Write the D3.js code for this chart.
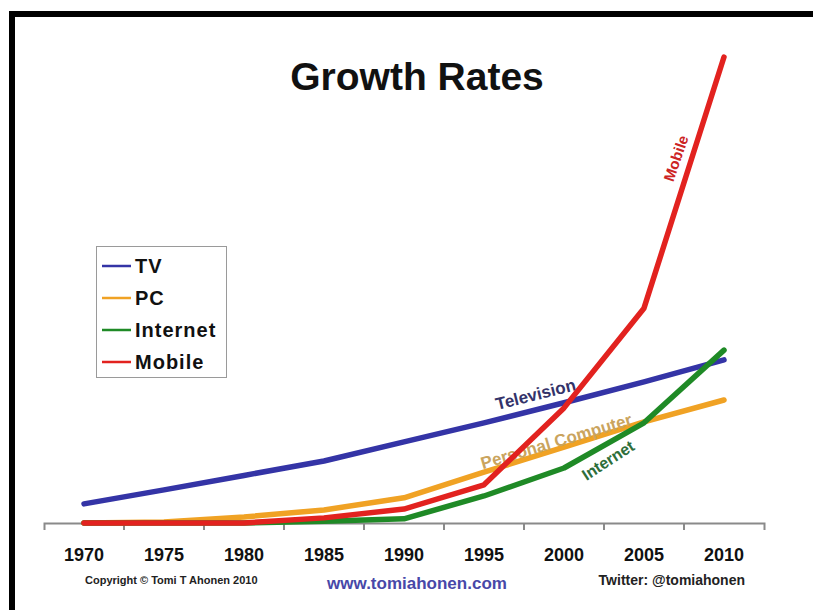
<!DOCTYPE html>
<html>
<head>
<meta charset="utf-8">
<script src="https://cdn.jsdelivr.net/npm/d3@7/dist/d3.min.js"></script>
<style>
  html, body { margin: 0; padding: 0; background: #fff; }
  svg { display: block; }
  text { font-family: "Liberation Sans", Arial, Helvetica, sans-serif; }
</style>
</head>
<body>
<svg id="chart" width="813" height="610"></svg>
<script>
// ---- data ----
const years = ["1970", "1975", "1980", "1985", "1990", "1995", "2000", "2005", "2010"];
const tvValues       = [4.1, 7.1, 10.2, 13.3, 17.4, 21.5, 25.8, 30.3, 35.0];
const pcValues       = [0, 0.2, 1.3, 2.8, 5.4, 10.9, 16.3, 21.7, 26.4];
const internetValues = [0, 0, 0, 0.4, 0.9, 5.8, 11.8, 21.5, 37.1];
const mobileValues   = [0, 0, 0, 1.1, 3.0, 8.2, 24.7, 46.1, 100];
const seriesNames = ["TV", "PC", "Internet", "Mobile"];
const seriesColors = ["#3434a6", "#f0a224", "#1f8a26", "#e2221f"];
const inlineLabels = ["Television", "Personal Computer", "Internet", "Mobile"];
const titleText = "Growth Rates";
const footerTexts = ["Copyright \u00A9 Tomi T Ahonen 2010", "www.tomiahonen.com", "Twitter: @tomiahonen"];

const seriesValues = [tvValues, pcValues, internetValues, mobileValues];

const svg = d3.select("#chart");

// background
svg.append("rect").attr("width", 813).attr("height", 610).attr("fill", "#fff");

// frame
svg.append("rect")
  .attr("x", 12).attr("y", 14).attr("width", 900).attr("height", 700)
  .attr("fill", "none").attr("stroke", "#000").attr("stroke-width", 6);

// scales
const x = d3.scaleBand().domain(years).range([44, 764]);
const bw = x.bandwidth();
const y = d3.scaleLinear().domain([0, 100]).range([523, 57]);
const cx = d => x(d) + bw / 2;

// title
svg.append("text")
  .attr("x", 417).attr("y", 90)
  .attr("text-anchor", "middle")
  .attr("font-size", 39).attr("font-weight", "bold")
  .attr("fill", "#111")
  .text(titleText);

// axis
const axisG = svg.append("g").attr("transform", `translate(0,${y(0)})`);
axisG.call(d3.axisBottom(x).tickSize(0).tickSizeOuter(7).tickPadding(25));
axisG.select(".domain").attr("stroke", "#8a8a8a").attr("stroke-width", 2);
axisG.selectAll(".tick text")
  .attr("font-size", 18).attr("font-weight", "bold")
  .attr("font-family", "Liberation Sans, Arial, sans-serif")
  .attr("fill", "#111");
axisG.selectAll("line.bound")
  .data(years.slice(1))
  .join("line")
  .attr("class", "bound")
  .attr("x1", d => x(d)).attr("x2", d => x(d))
  .attr("y1", 0).attr("y2", 7)
  .attr("stroke", "#8a8a8a").attr("stroke-width", 2);

// lines
const line = d3.line()
  .x((v, i) => cx(years[i]))
  .y(v => y(v));

const linesG = svg.append("g");
const labelsG = svg.append("g");
const topG = svg.append("g");

seriesValues.forEach((vals, si) => {
  (si === 3 ? topG : linesG).append("path")
    .datum(vals)
    .attr("d", line)
    .attr("fill", "none")
    .attr("stroke", seriesColors[si])
    .attr("stroke-width", 5.5)
    .attr("stroke-linejoin", "round")
    .attr("stroke-linecap", "round");
});

// inline labels
const labelSpecs = [
  { x: 537, y: 400, rot: -14, color: "#33336a", size: 17 },
  { x: 558, y: 447, rot: -16.5, color: "#caa45e", size: 17 },
  { x: 611, y: 465, rot: -33, color: "#2e6e3a", size: 16 },
  { x: 681, y: 160, rot: -71, color: "#cc2424", size: 15 }
];
labelSpecs.forEach((s, i) => {
  (i === 3 ? topG : labelsG).append("text")
    .attr("transform", `translate(${s.x},${s.y}) rotate(${s.rot})`)
    .attr("text-anchor", "middle")
    .attr("font-size", s.size).attr("font-weight", "bold")
    .attr("fill", s.color)
    .text(inlineLabels[i]);
});

// legend
const lg = svg.append("g");
lg.append("rect")
  .attr("x", 96.5).attr("y", 246.5).attr("width", 130).attr("height", 131)
  .attr("fill", "#fff").attr("stroke", "#9a9a9a").attr("stroke-width", 1);
seriesNames.forEach((n, i) => {
  const yy = 266 + i * 32;
  lg.append("line")
    .attr("x1", 102).attr("x2", 131).attr("y1", yy).attr("y2", yy)
    .attr("stroke", seriesColors[i]).attr("stroke-width", 2.5);
  lg.append("text")
    .attr("x", 135).attr("y", yy + 7)
    .attr("font-size", 20).attr("font-weight", "bold")
    .attr("letter-spacing", 1)
    .attr("fill", "#111")
    .text(n);
});

// footer
svg.append("text")
  .attr("x", 85).attr("y", 584)
  .attr("font-size", 11).attr("font-weight", "bold")
  .attr("fill", "#222")
  .text(footerTexts[0]);
svg.append("text")
  .attr("x", 417).attr("y", 589)
  .attr("text-anchor", "middle")
  .attr("font-size", 17).attr("font-weight", "bold")
  .attr("fill", "#4848a8")
  .text(footerTexts[1]);
svg.append("text")
  .attr("x", 745).attr("y", 585)
  .attr("text-anchor", "end")
  .attr("font-size", 14).attr("font-weight", "bold")
  .attr("fill", "#222")
  .text(footerTexts[2]);
</script>
</body>
</html>
